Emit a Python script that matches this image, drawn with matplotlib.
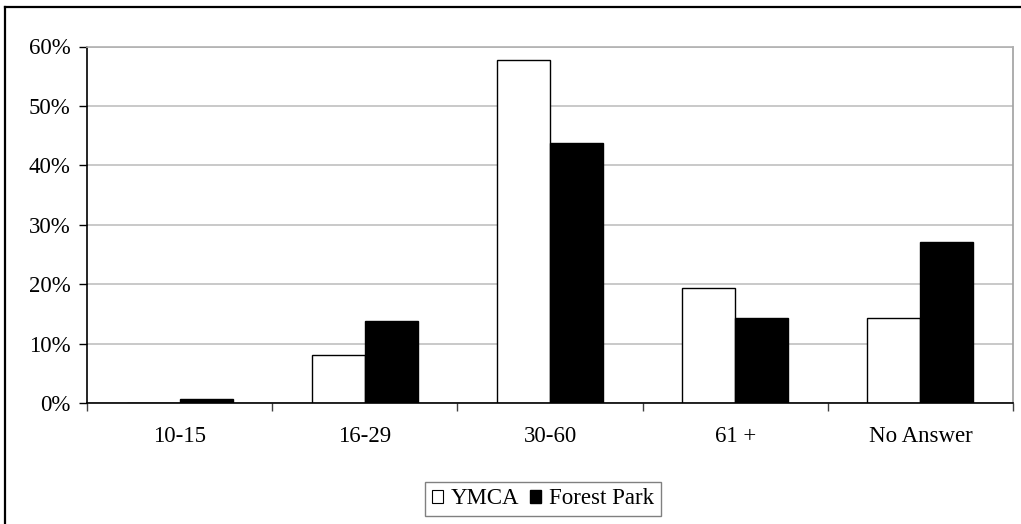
import matplotlib.pyplot as plt
from matplotlib.patches import Patch
from matplotlib.ticker import FixedLocator, FuncFormatter
from matplotlib.lines import Line2D

categories = ['10-15', '16-29', '30-60', '61 +', 'No Answer']
ymca = [0.0, 0.081, 0.577, 0.194, 0.144]
forest_park = [0.007, 0.138, 0.437, 0.144, 0.271]

plt.rcParams['font.family'] = ['Liberation Serif', 'DejaVu Serif']

W, H = 1021, 524
fig = plt.figure(figsize=(W / 100, H / 100), dpi=100)
ax = fig.add_axes([87 / W, 1 - 403.3 / H, (1013 - 87) / W, (403.3 - 46.5) / H])

w = 1 / 3.5
x = list(range(len(categories)))
ax.bar([i - w / 2 for i in x], ymca, width=w, color='white', edgecolor='black', linewidth=1, label='YMCA')
ax.bar([i + w / 2 for i in x], forest_park, width=w, color='black', edgecolor='black', linewidth=1, label='Forest Park')

ax.set_xlim(-0.5, len(categories) - 0.5)
ax.set_ylim(0, 0.6)
ax.set_yticks([0, 0.1, 0.2, 0.3, 0.4, 0.5, 0.6])
ax.yaxis.set_major_formatter(FuncFormatter(lambda v, p: '{:.0f}%'.format(v * 100)))
ax.yaxis.grid(True, color='#c0c0c0', linewidth=1.2)
ax.set_axisbelow(True)

ax.xaxis.set_major_locator(FixedLocator([i - 0.5 for i in range(len(categories) + 1)]))
ax.xaxis.set_minor_locator(FixedLocator(x))
ax.set_xticklabels([], minor=False)
ax.set_xticklabels(categories, minor=True)
ax.tick_params(axis='x', which='major', length=6, width=1, direction='out', color='#404040')
ax.tick_params(axis='x', which='minor', length=0, pad=16, labelsize=16.5)
ax.tick_params(axis='y', length=6, width=1, direction='out', pad=6, labelsize=16.5)

ax.spines['left'].set_color('black')
ax.spines['bottom'].set_color('black')
ax.spines['top'].set_color('#b0b0b0')
ax.spines['right'].set_color('#a0a0a0')
for s in ax.spines.values():
    s.set_linewidth(1.2)

# outer chart border (only top and left visible)
fig.add_artist(Line2D([5 / W, 5 / W], [0, 1 - 7 / H], transform=fig.transFigure, color='black', linewidth=1.6))
fig.add_artist(Line2D([5 / W, 1], [1 - 7 / H, 1 - 7 / H], transform=fig.transFigure, color='black', linewidth=1.6))

handles = [Patch(facecolor='white', edgecolor='black', linewidth=0.8, label='YMCA'),
           Patch(facecolor='black', edgecolor='black', label='Forest Park')]
leg = fig.legend(handles=handles, loc='center', bbox_to_anchor=(543 / W, 1 - 499 / H), ncol=2,
                 fontsize=16.5, frameon=True, fancybox=False, handlelength=0.5, handleheight=0.5,
                 handletextpad=0.35, columnspacing=0.45, borderpad=0.3, borderaxespad=0)
leg.get_frame().set_edgecolor('#606060')
leg.get_frame().set_linewidth(1)

plt.savefig('out.png', dpi=100)
